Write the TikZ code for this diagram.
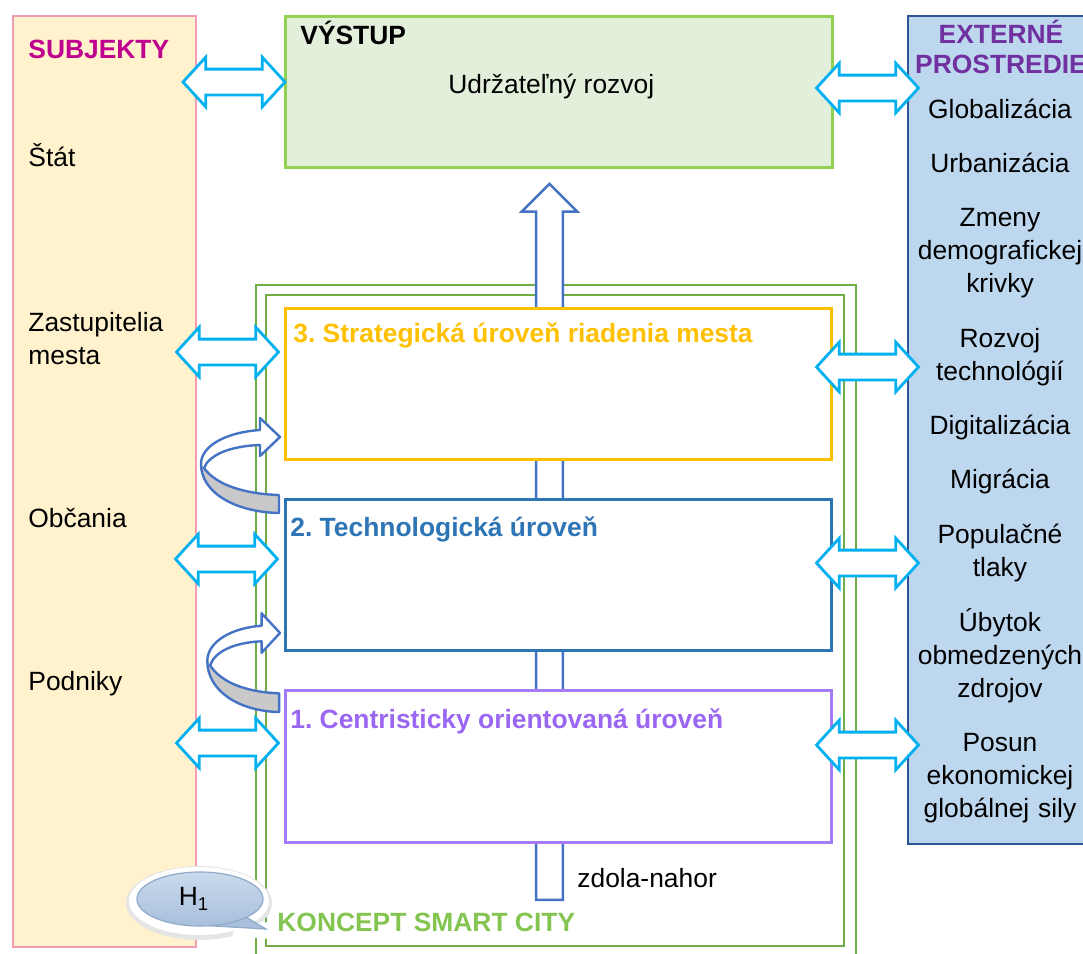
\documentclass[tikz,border=0pt]{standalone}
\usepackage{fontspec}
\setmainfont{Liberation Sans}
\usetikzlibrary{shapes.arrows}
\frenchspacing

\definecolor{subjfill}{HTML}{FFF2CC}
\definecolor{subjline}{HTML}{F09CB4}
\definecolor{subjtext}{HTML}{C0008F}
\definecolor{outfill}{HTML}{E2EFDA}
\definecolor{outgreen}{HTML}{92D050}
\definecolor{framegreen}{HTML}{70AD47}
\definecolor{extfill}{HTML}{BDD7EE}
\definecolor{extline}{HTML}{2F5597}
\definecolor{exttext}{HTML}{7030A0}
\definecolor{lvlthree}{HTML}{FFC000}
\definecolor{lvltwo}{HTML}{2E75B6}
\definecolor{lvlone}{HTML}{A47CFA}
\definecolor{lvlonetext}{HTML}{9A66F2}
\definecolor{linkcyan}{HTML}{00B0F0}
\definecolor{flowblue}{HTML}{4472C4}
\definecolor{bandgray}{HTML}{C9C9C9}
\definecolor{smartgreen}{HTML}{84C450}
\definecolor{htop}{HTML}{CADAEC}
\definecolor{hbot}{HTML}{A8C0DC}
\definecolor{hline}{HTML}{8FAACB}

\newcommand\lbl{\fontsize{13.2}{16.5}\selectfont}

\tikzset{
  panel/.style={line width=1.25pt},
  lvlbox/.style={fill=white, line width=1.5pt},
  frame/.style={framegreen, line width=1pt},
  txt/.style={anchor=base west, inner sep=0pt, font=\lbl},
  headline/.style={txt, font=\lbl\bfseries},
  extitem/.style={anchor=base, inner sep=0pt, font=\lbl, text width=95pt, align=center},
  link/.style={double arrow, draw=linkcyan, fill=white, line width=1.4pt,
    inner sep=0pt, inner ysep=5.75pt, minimum width=0pt, minimum height=51pt,
    double arrow head extend=6pt, double arrow tip angle=95},
  rise/.style={single arrow, draw=flowblue, fill=white, line width=1.25pt,
    rotate=90, anchor=tip, inner sep=0pt, inner ysep=6.1pt, minimum width=0pt,
    minimum height=358pt, single arrow head extend=7.25pt, single arrow tip angle=90},
  turn/.style={flowblue, line width=1.2pt, line join=round},
}

% curved block arrow, #2 is its tip
\newcommand\turnarrow[2][]{%
  \begin{scope}[shift={#2},#1]
    \fill[white] (-20,-7) -- (-20,-19) -- (0,0) -- (-20,19) -- (-20,8)
      .. controls (-50,9) and (-71,18) .. (-76,31) -- (-79,27)
      .. controls (-79,8) and (-52,-5) .. (-20,-7) -- cycle;
    \fill[bandgray] (-76,31) .. controls (-64,48) and (-35,57) .. (-1,58)
      -- (-1,76) .. controls (-46,75) and (-79,55) .. (-79,27) -- cycle;
    \draw[turn] (-1,58) -- (-1,76) .. controls (-46,75) and (-79,55) .. (-79,27)
      .. controls (-79,8) and (-52,-5) .. (-20,-7) -- (-20,-19) -- (0,0)
      -- (-20,19) -- (-20,8) .. controls (-50,9) and (-71,18) .. (-76,31)
      .. controls (-64,48) and (-35,57) .. (-1,58) -- cycle;
  \end{scope}}

\begin{document}
\begin{tikzpicture}[x=0.5pt,y=-0.5pt]
  \useasboundingbox (0,0) rectangle (1083,954);

  % side panels
  \draw[panel, draw=subjline, fill=subjfill] (13,16) rectangle (196,947);
  \draw[panel, draw=extline, fill=extfill] (908,16) rectangle (1110,844);

  % smart city frame
  \draw[frame] (256,285) rectangle (856,990);
  \draw[frame] (266,295) rectangle (844,946);

  % bottom-up arrow, runs behind the levels
  \node[rise] (up) at (549.5,182) {};

  % output and the three levels
  \draw[line width=1.5pt, draw=outgreen, fill=outfill] (285,16) rectangle (832,167);
  \draw[lvlbox, draw=lvlthree] (285,308) rectangle (831,459);
  \draw[lvlbox, draw=lvltwo] (285,499) rectangle (831,650);
  \draw[lvlbox, draw=lvlone] (285,690) rectangle (831,842);

  \node[headline] (outtitle) at (300,44) {VÝSTUP};
  \node[txt] (outtext) at (448,93) {Udržateľný rozvoj};
  \node[headline, text=lvlthree] (lvl3) at (293,342) {3. Strategická úroveň riadenia mesta};
  \node[headline, text=lvltwo] (lvl2) at (290,536) {2. Technologická úroveň};
  \node[headline, text=lvlonetext] (lvl1) at (290,728) {1. Centristicky orientovaná úroveň};
  \node[txt] (dir) at (577,887) {zdola-nahor};
  \node[headline, text=smartgreen] (smart) at (277,931) {KONCEPT SMART CITY};

  % subjects
  \node[headline, text=subjtext] (subj) at (28,58) {SUBJEKTY};
  \node[txt] (stat) at (28,166) {Štát};
  \node[txt, text width=80pt, align=left] (zast) at (28,331) {Zastupitelia\\mesta};
  \node[txt] (obc) at (28,527) {Občania};
  \node[txt] (podn) at (28,690) {Podniky};

  % external environment
  \node[extitem, font=\fontsize{13.2}{15}\selectfont\bfseries, text=exttext] (ext) at (1001,43) {EXTERNÉ\\PROSTREDIE};
  \foreach \y/\t [count=\i] in {118/Globalizácia, 172/Urbanizácia,
      226/{Zmeny\\demografickej\\krivky}, 347/{Rozvoj\\technológií},
      434/Digitalizácia, 488/Migrácia, 543/{Populačné\\tlaky},
      631/{Úbytok\\obmedzených\\zdrojov}, 751/{Posun\\ekonomickej\\globálnej sily}}
    \node[extitem] (ext\i) at (1000,\y) {\t};

  % links to the panels
  \node[link] (l0) at (234,82) {};
  \node[link] (l1) at (227.5,352) {};
  \node[link] (l2) at (226.5,559) {};
  \node[link] (l3) at (227.5,743) {};
  \node[link] (r0) at (867.5,88) {};
  \node[link] (r1) at (867.5,367) {};
  \node[link] (r2) at (867.5,563) {};
  \node[link] (r3) at (867.5,745) {};

  % feedback between levels
  \turnarrow{(280,437)}
  \turnarrow[xscale=0.92,yscale=1.04]{(280,633)}

  % H1 callout
  \fill[black!10] (199,903) ellipse [x radius=73, y radius=37];
  \fill[white] (199,901) ellipse [x radius=70, y radius=34];
  \fill[white] (236,924) -- (273,922) -- (273,939) -- (232,937) -- cycle;
  \filldraw[draw=hline, line width=0.6pt, fill=hbot] (246,917) -- (266,929) -- (214,926) -- cycle;
  \draw[draw=hline, line width=0.6pt, top color=htop, bottom color=hbot] (200,899) ellipse [x radius=63, y radius=27];
  \node[font=\lbl, inner sep=0pt] (h1) at (194,899) {H\textsubscript{1}};
\end{tikzpicture}
\end{document}
